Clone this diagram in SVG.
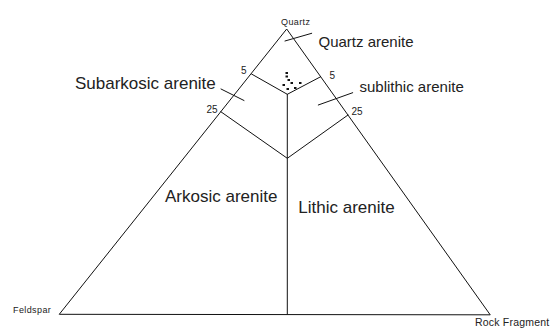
<svg xmlns="http://www.w3.org/2000/svg" width="553" height="336" viewBox="0 0 553 336">
  <style>
    .edge { fill: none; stroke: #111; stroke-width: 1; stroke-linecap: round; }
    .big { font-family: "Liberation Sans", Arial, sans-serif; fill: #222; }
    .corner { font-family: "Liberation Sans", Arial, sans-serif; font-size: 9px; fill: #222; letter-spacing: 0.4px; }
    .pct { font-family: "Liberation Sans", Arial, sans-serif; font-size: 10px; fill: #222; }
    .dot { fill: #111; }
  </style>
  <rect width="553" height="336" fill="#fff"/>

  <!-- Ternary frame and field boundaries -->
  <g id="connectors">
    <path class="edge" d="M59.5 314 L286.7 29 L490 314.5 Z"/>
    <!-- 5% boundary -->
    <path class="edge" d="M251.5 74 L287.3 94.3 L320.7 76.7"/>
    <!-- 25% boundary -->
    <path class="edge" d="M220.8 111.7 L287.3 158.3 L348 115"/>
    <!-- Arkosic / Lithic divider -->
    <path class="edge" d="M287.3 94.3 L287.3 314"/>
    <!-- leaders -->
    <path class="edge" d="M285 41 L311.7 33.3"/>
    <path class="edge" d="M221 89 L244 100.5"/>
    <path class="edge" d="M318.3 105 L352.7 92.7"/>
  </g>

  <!-- Apex labels -->
  <g id="quartz"><text class="corner" x="281" y="25">Quartz</text></g>
  <g id="feldspar"><text class="corner" x="13" y="313">Feldspar</text></g>
  <g id="rock-fragment"><text class="corner" x="475" y="326" style="font-size:10.5px;letter-spacing:0.2px">Rock Fragment</text></g>

  <!-- Percent ticks -->
  <g id="pct-labels">
    <text class="pct" x="241" y="74">5</text>
    <text class="pct" x="329.5" y="78.5">5</text>
    <text class="pct" x="206.5" y="112.5">25</text>
    <text class="pct" x="351.5" y="115">25</text>
  </g>

  <!-- Field names -->
  <g id="quartz-arenite"><text class="big" x="318.5" y="47" font-size="15">Quartz arenite</text></g>
  <g id="subarkosic-arenite"><text class="big" x="75" y="89.3" font-size="17">Subarkosic arenite</text></g>
  <g id="sublithic-arenite"><text class="big" x="359.5" y="91.5" font-size="15">sublithic arenite</text></g>
  <g id="arkosic-arenite"><text class="big" x="165" y="201.5" font-size="17">Arkosic arenite</text></g>
  <g id="lithic-arenite"><text class="big" x="298.3" y="213.3" font-size="17">Lithic arenite</text></g>

  <!-- Point cluster near the quartz pole -->
  <g id="points">
    <rect class="dot" x="285.5" y="72" width="2.5" height="2"/>
    <rect class="dot" x="285.5" y="75.5" width="2.5" height="2"/>
    <rect class="dot" x="287.5" y="79" width="2.5" height="2"/>
    <rect class="dot" x="282.5" y="84" width="2.5" height="2"/>
    <rect class="dot" x="290.5" y="82" width="2.5" height="2"/>
    <rect class="dot" x="299" y="82" width="2.5" height="2"/>
    <rect class="dot" x="286.5" y="88" width="2.5" height="2"/>
    <rect class="dot" x="294" y="87" width="2.5" height="2"/>
  </g>
</svg>
